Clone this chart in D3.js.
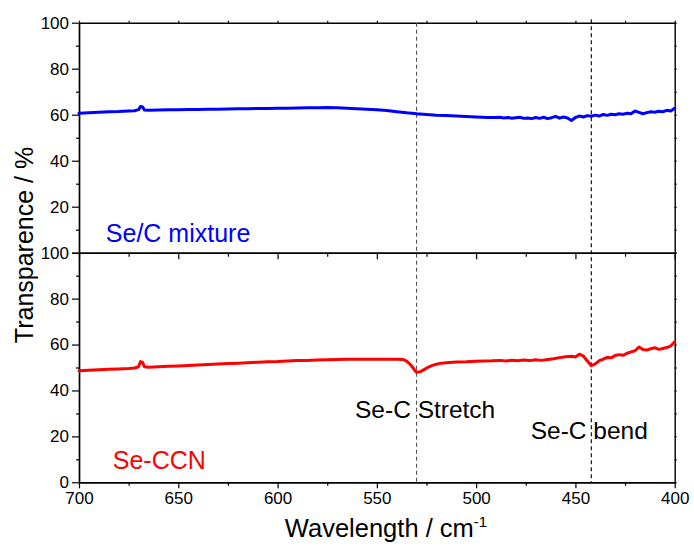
<!DOCTYPE html>
<html>
<head>
<meta charset="utf-8">
<script src="https://cdn.jsdelivr.net/npm/d3@7"></script>
<style>
  html, body { margin: 0; padding: 0; background: #fff; }
  svg { display: block; font-family: "Liberation Sans", Arial, sans-serif; }
</style>
</head>
<body>
<svg id="chart" width="694" height="552"></svg>
<script>
// Wavenumbers (cm-1) and transparence (%) for the Se/C mixture spectrum
const mixWave = [700,695,690,685,680,675,672,670,669,668,667,665,660,655,650,645,640,635,630,625,620,615,610,605,600,595,590,585,580,575,570,565,560,555,550,545,540,535,530,525,520,515,510,505,500,497,494,491,488,486,484,482,480,478,476,474,472,470,468,466,464,462,460,458,456,454,452,450,448,446,444,442,440,438,436,434,432,430,428,426,424,422,420,418,416,414,412,410,408,406,404,402,400];
const mixValue = [60.6,60.9,61.1,61.3,61.4,61.6,61.7,62.2,63.6,63.4,62.0,61.9,62.0,62.1,62.2,62.3,62.3,62.4,62.4,62.5,62.6,62.6,62.7,62.7,62.8,62.8,62.9,63.0,63.0,63.1,63.0,62.8,62.6,62.4,62.2,61.8,61.3,60.8,60.4,60.1,59.8,59.6,59.4,59.2,59.0,58.9,58.8,58.8,58.9,58.6,58.8,58.5,58.7,58.9,58.4,58.6,58.3,58.8,58.4,58.9,58.3,58.7,59.3,58.5,59.0,58.6,57.5,58.8,59.4,59.0,59.6,59.3,59.8,59.4,60.1,59.7,60.2,60.0,60.4,60.2,60.6,60.4,61.6,61.0,60.4,60.9,61.3,61.1,61.5,61.3,61.9,61.6,62.8];

// Wavenumbers (cm-1) and transparence (%) for the Se-CCN spectrum
const ccnWave = [700,695,690,685,680,675,672,670,669,668,667,665,660,655,650,645,640,635,630,625,620,615,610,605,600,595,590,585,580,575,570,565,560,555,550,545,540,537,535,533,531,530,528,526,524,522,520,518,515,510,505,500,496,492,488,485,482,479,476,473,470,467,464,461,458,455,452,450,448,446,444,442,440,438,436,434,432,430,428,426,424,422,420,418,416,414,412,410,408,406,404,402,400];
const ccnValue = [48.6,48.8,49.0,49.2,49.4,49.6,49.8,50.3,52.6,52.2,50.3,50.1,50.3,50.5,50.7,50.9,51.1,51.3,51.5,51.7,51.9,52.1,52.3,52.5,52.6,52.8,53.0,53.1,53.3,53.4,53.5,53.6,53.6,53.6,53.6,53.6,53.6,53.5,52.8,51.2,48.9,47.9,48.2,49.2,50.2,50.9,51.4,51.8,52.1,52.4,52.5,52.7,52.8,52.9,53.1,52.8,53.2,52.9,53.3,53.0,53.4,53.1,53.5,53.8,54.3,54.7,54.9,54.6,55.8,55.0,52.8,50.8,51.6,53.0,53.6,54.4,54.2,55.2,55.6,55.3,56.2,56.8,57.3,58.9,57.8,57.6,58.2,58.6,57.9,58.3,58.7,59.4,61.2];

// Axis ticks
const xMajorTicks = [700, 650, 600, 550, 500, 450, 400];
const xMinorTicks = [675, 625, 575, 525, 475, 425];
const yMajorTicks = [0, 20, 40, 60, 80, 100];
const yMinorTicks = [10, 30, 50, 70, 90];

// Band positions marked by dashed guides, and their labels
const bandWave = [530, 442];
const bandLabels = ["Se-C Stretch", "Se-C bend"];

const svg = d3.select("#chart");
const plotLeft = 79, plotRight = 674.7, plotTop = 22.7, plotMid = 252.7, plotBottom = 482.3;

const x = d3.scaleLinear().domain([700, 400]).range([plotLeft, plotRight]);
const yTop = d3.scaleLinear().domain([0, 100]).range([plotMid, plotTop]);
const yBot = d3.scaleLinear().domain([0, 100]).range([plotBottom, plotMid]);

const tickFont = "17px";

function styleAxis(g) {
  g.select(".domain").attr("stroke", "#000").attr("stroke-width", 1.4);
  g.selectAll(".tick line").attr("stroke", "#000").attr("stroke-width", 1.2);
  g.selectAll(".tick text").attr("fill", "#000").style("font-size", tickFont)
    .style("font-family", "'Liberation Sans', Arial, sans-serif");
}

function drawPanel(y, labelZero) {
  // left axis: labelled majors and short minors
  svg.append("g").attr("transform", `translate(${plotLeft},0)`)
    .call(d3.axisLeft(y).tickValues(yMinorTicks).tickSize(3).tickSizeOuter(0).tickFormat(""))
    .call(styleAxis);
  svg.append("g").attr("transform", `translate(${plotLeft},0)`)
    .call(d3.axisLeft(y).tickValues(yMajorTicks).tickSize(7).tickSizeOuter(0).tickPadding(3)
      .tickFormat(d => (d === 0 && !labelZero) ? "" : d3.format("d")(d)))
    .call(styleAxis);
  // right axis: small outward ticks
  svg.append("g").attr("transform", `translate(${plotRight},0)`)
    .call(d3.axisRight(y).tickValues(yMajorTicks.concat(yMinorTicks)).tickSize(2).tickSizeOuter(0).tickFormat(""))
    .call(styleAxis);
}

// the upper panel's zero coincides with the lower panel's 100
drawPanel(yTop, false);
drawPanel(yBot, true);

// top frame edge
svg.append("g").attr("transform", `translate(0,${plotTop})`)
  .call(d3.axisTop(x).tickValues(xMajorTicks.concat(xMinorTicks)).tickSize(2).tickSizeOuter(0).tickFormat(""))
  .call(styleAxis);

// shared edge between panels
svg.append("g").attr("transform", `translate(0,${plotMid})`)
  .call(d3.axisBottom(x).tickValues(xMinorTicks).tickSize(4).tickSizeOuter(0).tickFormat(""))
  .call(styleAxis);
svg.append("g").attr("transform", `translate(0,${plotMid})`)
  .call(d3.axisBottom(x).tickValues(xMajorTicks).tickSize(6.5).tickSizeOuter(0).tickFormat(""))
  .call(styleAxis);

// bottom axis
svg.append("g").attr("transform", `translate(0,${plotBottom})`)
  .call(d3.axisBottom(x).tickValues(xMinorTicks).tickSize(3.5).tickSizeOuter(0).tickFormat(""))
  .call(styleAxis);
svg.append("g").attr("transform", `translate(0,${plotBottom})`)
  .call(d3.axisBottom(x).tickValues(xMajorTicks).tickSize(6).tickSizeOuter(0).tickPadding(4).tickFormat(d3.format("d")))
  .call(styleAxis);

// dashed band guides
svg.selectAll("line.band").data(bandWave).enter().append("line")
  .attr("class", "band")
  .attr("x1", d => x(d)).attr("x2", d => x(d))
  .attr("y1", (d, i) => i === 0 ? plotTop : plotTop - 3.5).attr("y2", plotBottom)
  .attr("stroke", (d, i) => i === 0 ? "#555" : "#000")
  .attr("stroke-width", 1.1)
  .attr("stroke-dasharray", "4,3");

// spectra
const mixLine = d3.line().x((d, i) => x(mixWave[i])).y(d => yTop(d));
const ccnLine = d3.line().x((d, i) => x(ccnWave[i])).y(d => yBot(d));

svg.append("path").datum(mixValue).attr("d", mixLine)
  .attr("fill", "none").attr("stroke", "#0000ff").attr("stroke-width", 3)
  .attr("stroke-linejoin", "round").attr("stroke-linecap", "round");
svg.append("path").datum(ccnValue).attr("d", ccnLine)
  .attr("fill", "none").attr("stroke", "#ff0000").attr("stroke-width", 3)
  .attr("stroke-linejoin", "round").attr("stroke-linecap", "round");

// series names
svg.append("text").attr("x", x(686.5)).attr("y", yTop(4.8))
  .attr("fill", "#0000ff").style("font-size", "25px").text("Se/C mixture");
svg.append("text").attr("x", x(683)).attr("y", yBot(5.8))
  .attr("fill", "#ff0000").style("font-size", "25px").text("Se-CCN");

// band labels
const bandLabelPos = [[561, 28.1], [472.5, 18.7]];
svg.selectAll("text.bandlabel").data(bandLabels).enter().append("text")
  .attr("class", "bandlabel")
  .attr("x", (d, i) => x(bandLabelPos[i][0]))
  .attr("y", (d, i) => yBot(bandLabelPos[i][1]))
  .attr("fill", "#000").style("font-size", "24.5px").text(d => d);

// axis titles
svg.append("text")
  .attr("transform", `translate(33,245) rotate(-90)`)
  .attr("text-anchor", "middle").attr("fill", "#000").style("font-size", "25px")
  .text("Transparence / %");

const xt = svg.append("text").attr("x", 386).attr("y", 537)
  .attr("text-anchor", "middle").attr("fill", "#000").style("font-size", "25.5px");
xt.append("tspan").text("Wavelength / cm");
xt.append("tspan").attr("dy", -10).style("font-size", "15px").text("-1");
</script>
</body>
</html>
